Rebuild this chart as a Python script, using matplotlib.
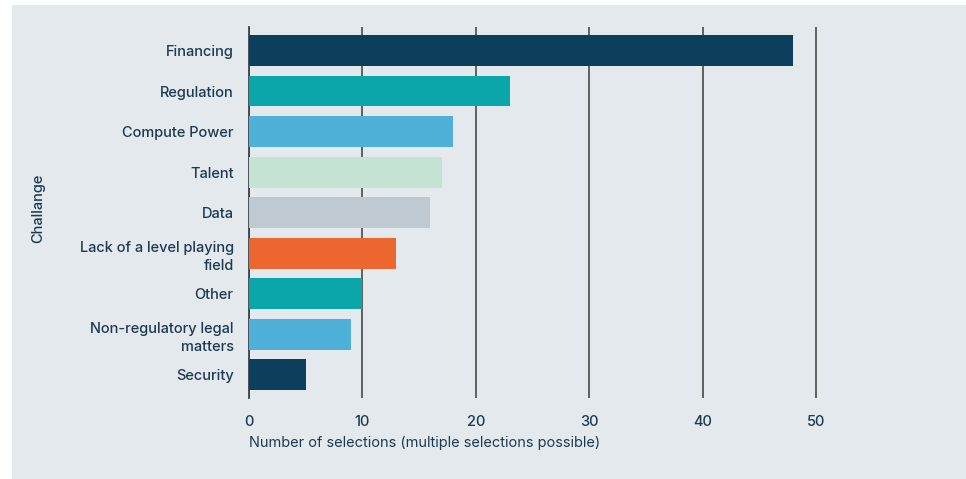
import matplotlib
matplotlib.use("Agg")
import matplotlib.pyplot as plt
from matplotlib.patches import Rectangle

# data
challenges = ["Financing", "Regulation", "Compute Power", "Talent", "Data",
              "Lack of a level playing\nfield", "Other",
              "Non-regulatory legal\nmatters", "Security"]
selections = [48, 23, 18, 17, 16, 13, 10, 9, 5]
bar_colors = ["#0b3f5c", "#0aa6aa", "#50b1d8", "#c5e3d2", "#bec9d1",
              "#ec6730", "#0aa6aa", "#50b1d8", "#0b3f5c"]
xticks = [0, 10, 20, 30, 40, 50]

bg = "#e4e9ee"
txt = "#1d3a52"
plt.rcParams["font.family"] = ["Inter", "DejaVu Sans"]
plt.rcParams["font.weight"] = "medium"
fs = 10.5

fig = plt.figure(figsize=(9.66, 4.79), dpi=100)
fig.patch.set_facecolor("white")
fig.add_artist(Rectangle((12/966, 0), 1 - 12/966, 1 - 5/479,
                         transform=fig.transFigure, facecolor=bg,
                         edgecolor="none", zorder=0))

ax = fig.add_axes([249/966, 81/479, (60*11.34)/966, 371/479])
ax.set_facecolor("none")

ypos = list(range(len(challenges)))
ax.barh(ypos, selections, height=0.76, color=bar_colors, zorder=3,
        edgecolor="none")

ax.set_xlim(0, 60)
ax.set_ylim(8.57, -0.58)
ax.set_xticks(xticks)
ax.set_yticks(ypos)
ax.set_yticklabels(challenges, fontsize=fs, color=txt,
                   linespacing=1.4)
ax.tick_params(axis="both", length=0, labelcolor=txt)
ax.tick_params(axis="y", pad=11)
ax.tick_params(axis="x", pad=12, labelsize=fs)

ax.grid(axis="x", color="#555555", linewidth=1.3, zorder=1)
ax.set_axisbelow(True)
for s in ["top", "right", "bottom"]:
    ax.spines[s].set_visible(False)
ax.spines["left"].set_color("#3a4550")
ax.spines["left"].set_linewidth(1.3)

ax.set_xlabel("Number of selections (multiple selections possible)",
              loc="left", fontsize=fs, color=txt, labelpad=5)
fig.text(38/966, 1 - 208/479, "Challange", rotation=90, ha="center",
         va="center", fontsize=fs, color=txt)

fig.savefig("out.png", dpi=100, facecolor=fig.get_facecolor())
